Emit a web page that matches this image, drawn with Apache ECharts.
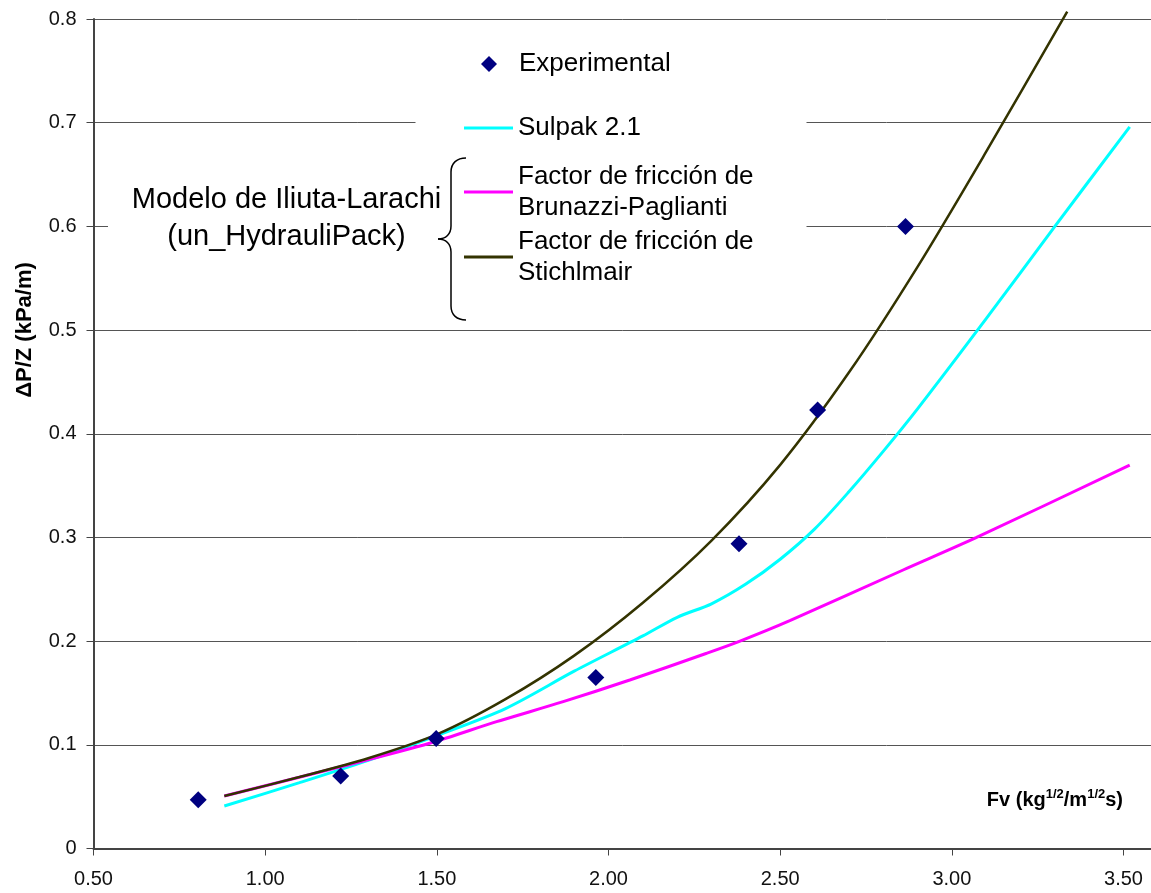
<!DOCTYPE html>
<html lang="es">
<head>
    <meta charset="utf-8">
    <title>Caída de presión</title>
    <script src="https://cdn.jsdelivr.net/npm/echarts@6/dist/echarts.min.js"></script>
    <style>
        html, body, #main {
            width: 100%;
            height: 100%;
            margin: 0;
            padding: 0;
            overflow: hidden;
            background-color: #ffffff;
        }
    </style>
</head>
<body>
<div id="main"></div>
<script>
    // puntos experimentales
    var expX = [0.805, 1.220, 1.498, 1.963, 2.380, 2.609, 2.865];
    var expY = [0.047, 0.070, 0.106, 0.165, 0.294, 0.423, 0.600];

    // Sulpak 2.1
    var sulX = [0.881, 1.10, 1.30, 1.50, 1.70, 1.90, 2.10, 2.20, 2.30, 2.40, 2.50, 2.60, 2.70, 2.80, 2.90, 3.10, 3.30, 3.518];
    var sulY = [0.041, 0.0635, 0.085, 0.109, 0.135, 0.171, 0.205, 0.223, 0.236, 0.255, 0.279, 0.308, 0.344, 0.383, 0.424, 0.511, 0.600, 0.696];

    // Brunazzi-Paglianti
    var bruX = [0.881, 1.220, 1.479, 1.674, 1.868, 2.062, 2.286, 2.383, 2.528, 2.858, 3.072, 3.518];
    var bruY = [0.0506, 0.0789, 0.1015, 0.1223, 0.1416, 0.1625, 0.1883, 0.200, 0.2197, 0.2686, 0.300, 0.3698];

    // Stichlmair
    var stiX = [0.881, 1.10, 1.30, 1.50, 1.70, 1.90, 2.10, 2.30, 2.50, 2.70, 2.90, 3.10, 3.336];
    var stiY = [0.0506, 0.0689, 0.087, 0.110, 0.144, 0.186, 0.237, 0.297, 0.370, 0.459, 0.561, 0.672, 0.807];

    var nameExp = 'Experimental';
    var nameSul = 'Sulpak 2.1';
    var nameBru = 'Factor de fricción de\nBrunazzi-Paglianti';
    var nameSti = 'Factor de fricción de\nStichlmair';

    function pares(xs, ys) {
        var out = [];
        for (var i = 0; i < xs.length; i++) {
            out.push([xs[i], ys[i]]);
        }
        return out;
    }

    var fuente = '"Liberation Sans", Arial, sans-serif';
    var texto = {fontSize: 26, lineHeight: 31, color: '#000', fontFamily: fuente};

    // cada entrada de la leyenda va suelta, como en el original
    function leyenda(nombre, top, dosLineas) {
        return {
            orient: 'vertical', left: 464, top: top, padding: 0,
            itemWidth: 49, itemHeight: 3, selectedMode: false, z: 4,
            data: [{name: nombre, icon: 'rect'}],
            textStyle: dosLineas ? Object.assign({}, texto, {padding: [31, 0, 0, 0]}) : texto
        };
    }

    // llave "{" del rótulo
    var llave = {stroke: '#000', lineWidth: 1.5, fill: 'none'};
    function curva(x1, y1, c1x, c1y, c2x, c2y, x2, y2) {
        return {type: 'bezierCurve', z: 6, silent: true, style: llave,
            shape: {x1: x1, y1: y1, cpx1: c1x, cpy1: c1y, cpx2: c2x, cpy2: c2y, x2: x2, y2: y2}};
    }
    function recta(x1, y1, x2, y2) {
        return {type: 'line', z: 6, silent: true, style: llave,
            shape: {x1: x1, y1: y1, x2: x2, y2: y2}};
    }

    var myChart = echarts.init(document.getElementById('main'));
    var option = {
        animation: false,
        backgroundColor: '#fff',
        textStyle: {fontFamily: fuente},
        grid: {left: 93.5, right: 0, top: 19, bottom: 44.5},
        legend: [
            {
                orient: 'vertical', left: 481, top: 48.5, padding: 0,
                itemWidth: 16, itemHeight: 16, selectedMode: false, z: 4,
                data: [{name: nameExp, icon: 'diamond'}],
                textStyle: Object.assign({}, texto, {padding: [0, 0, 0, 17]})
            },
            leyenda(nameSul, 112.5, false),
            leyenda(nameBru, 145.5, true),
            leyenda(nameSti, 210.5, true)
        ],
        xAxis: {
            type: 'value',
            min: 0.5,
            max: 3.58,
            interval: 0.5,
            axisLine: {lineStyle: {color: '#444', width: 2}},
            axisTick: {show: true, length: 7, lineStyle: {color: '#444', width: 1}},
            axisLabel: {
                fontSize: 20, color: '#111', margin: 21, showMaxLabel: false,
                formatter: function (v) { return v.toFixed(2); }
            },
            splitLine: {show: false}
        },
        yAxis: {
            type: 'value',
            min: 0,
            max: 0.8,
            interval: 0.1,
            axisLine: {show: true, lineStyle: {color: '#444', width: 2}},
            axisTick: {show: true, length: 7, lineStyle: {color: '#444', width: 1}},
            axisLabel: {
                fontSize: 20, color: '#111', margin: 17,
                formatter: function (v) { return v === 0 ? '0' : v.toFixed(1); }
            },
            splitLine: {show: true, lineStyle: {color: '#555', width: 1}}
        },
        graphic: [
            // fondos blancos de la leyenda y del rótulo
            {type: 'rect', z: 1, silent: true, shape: {x: 415.5, y: 35, width: 391, height: 285}, style: {fill: '#fff'}},
            {type: 'rect', z: 1, silent: true, shape: {x: 108, y: 175, width: 342, height: 80}, style: {fill: '#fff'}},
            {
                type: 'text', z: 6, silent: true,
                style: {
                    text: 'Modelo de Iliuta-Larachi\n(un_HydrauliPack)',
                    x: 286.5, y: 218.5, align: 'center', verticalAlign: 'middle',
                    fontSize: 29, lineHeight: 37, fill: '#000', fontFamily: fuente
                }
            },
            curva(466, 158, 457, 158, 451, 163, 451, 172),
            recta(451, 172, 451, 226),
            curva(451, 226, 451, 234, 446, 239, 438, 239),
            curva(438, 239, 446, 239, 451, 244, 451, 252),
            recta(451, 252, 451, 306),
            curva(451, 306, 451, 315, 457, 320, 466, 320),
            {
                type: 'text', z: 6, silent: true, rotation: Math.PI / 2,
                x: 25, y: 330,
                style: {
                    text: 'ΔP/Z (kPa/m)', x: 0, y: 0, align: 'center', verticalAlign: 'middle',
                    fontSize: 22, fontWeight: 'bold', fill: '#000', fontFamily: fuente
                }
            },
            {
                type: 'text', z: 6, silent: true,
                style: {
                    text: '{b|Fv (kg}{s|1/2}{b|/m}{s|1/2}{b|s)}',
                    x: 1123, y: 800, align: 'right', verticalAlign: 'middle',
                    fill: '#000', fontFamily: fuente,
                    rich: {
                        b: {fontSize: 20, fontWeight: 'bold', lineHeight: 24, fontFamily: fuente},
                        s: {fontSize: 13, fontWeight: 'bold', lineHeight: 14, verticalAlign: 'top', fontFamily: fuente}
                    }
                }
            }
        ],
        series: [
            {
                name: nameSul, type: 'line', smooth: 0.3, symbol: 'none', z: 2,
                itemStyle: {color: '#00FFFF'},
                lineStyle: {color: '#00FFFF', width: 3},
                data: pares(sulX, sulY)
            },
            {
                name: nameBru, type: 'line', smooth: 0.3, symbol: 'none', z: 2,
                itemStyle: {color: '#FF00FF'},
                lineStyle: {color: '#FF00FF', width: 3},
                data: pares(bruX, bruY)
            },
            {
                name: nameSti, type: 'line', smooth: 0.3, symbol: 'none', z: 3, clip: false,
                itemStyle: {color: '#333300'},
                lineStyle: {color: '#333300', width: 2.5},
                data: pares(stiX, stiY)
            },
            {
                name: nameExp, type: 'scatter', symbol: 'diamond', symbolSize: 17, z: 5,
                itemStyle: {color: '#000080', opacity: 1},
                data: pares(expX, expY)
            }
        ]
    };
    myChart.setOption(option);
</script>
</body>
</html>
